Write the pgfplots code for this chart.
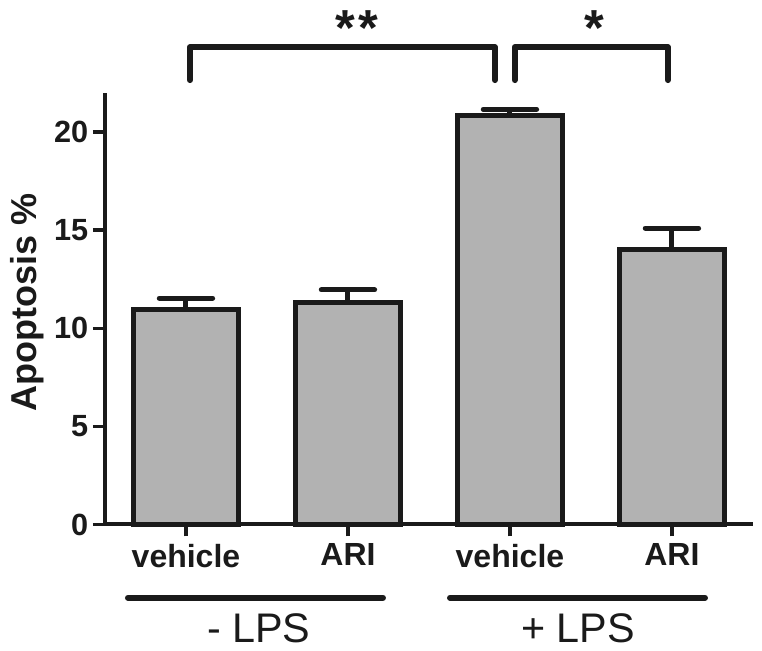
\documentclass[border=0pt]{standalone}
\usepackage{pgfplots}
\pgfplotsset{compat=1.18}
\usepackage{fontspec}
\setmainfont{Liberation Sans}
\definecolor{barfill}{HTML}{B2B2B2}
\definecolor{ink}{HTML}{1A1A1A}
\begin{document}
\begin{tikzpicture}
\begin{axis}[
    scale only axis, width=486pt, height=323.9pt,
    xmin=-0.5, xmax=3.5, ymin=0, ymax=22,
    axis lines=left, axis line style={-, line width=3pt, ink},
    clip=false,
    ybar, bar width=79pt,
    xtick={0,1,2,3}, xticklabels={vehicle,ARI,vehicle,ARI},
    ytick={0,5,10,15,20},
    tick align=outside, major tick length=9pt,
    tick style={line width=2.5pt, ink},
    /pgf/number format/assume math mode=true,
    ticklabel style={font=\fontsize{23}{26}\selectfont\bfseries, text=ink},
    xticklabel style={font=\fontsize{24}{28}\selectfont\bfseries, yshift=-2pt},
]
\addplot[fill=barfill, draw=ink, line width=3.75pt,
    error bars/.cd, y dir=plus, y explicit, error mark=|,
    error bar style={line width=3.75pt, ink},
    error mark options={line width=3.75pt, mark size=20pt, ink, line cap=round}]
    table[x=x, y=y, y error=e] {
    x y e
    0 10.95 0.58
    1 11.30 0.65
    2 20.85 0.30
    3 14.00 1.10
};
% significance brackets
\draw[ink, line width=4.5pt, line cap=round, line join=round]
    (axis cs:0.025,22.64) -- (axis cs:0.025,24.32) -- (axis cs:1.907,24.32) -- (axis cs:1.907,22.64);
\draw[ink, line width=4.5pt, line cap=round, line join=round]
    (axis cs:2.03,22.64) -- (axis cs:2.03,24.32) -- (axis cs:2.975,24.32) -- (axis cs:2.975,22.64);
\node[font=\fontsize{38}{40}\selectfont\bfseries, text=ink] at (axis cs:1.056,25.3) {*\kern3pt*};
\node[font=\fontsize{38}{40}\selectfont\bfseries, text=ink] at (axis cs:2.52,25.3) {*};
% group lines
\draw[ink, line width=4.5pt, line cap=round] (axis cs:-0.358,-3.73) -- (axis cs:1.216,-3.73);
\draw[ink, line width=4.5pt, line cap=round] (axis cs:1.63,-3.73) -- (axis cs:3.204,-3.73);
\node[font=\fontsize{31}{34}\selectfont, text=ink] at (axis cs:0.45,-5.3) {- LPS};
\node[font=\fontsize{31}{34}\selectfont, text=ink] at (axis cs:2.42,-5.3) {+ LPS};
\node[rotate=90, font=\fontsize{27}{30}\selectfont\bfseries, text=ink] at (axis cs:-0.98,11.3) {Apoptosis \%};
\coordinate (bbSW) at (axis cs:-1.148,-6.444);
\coordinate (bbNE) at (axis cs:3.556,26.72);
\end{axis}
\pgfresetboundingbox
\path[use as bounding box] (bbSW) rectangle (bbNE);
\end{tikzpicture}
\end{document}
